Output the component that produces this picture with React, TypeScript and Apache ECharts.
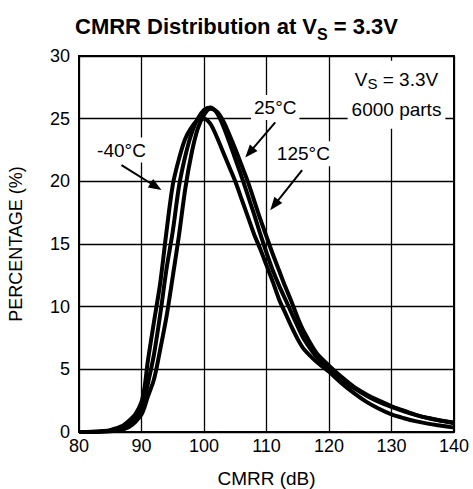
import React, { useEffect, useRef } from "react";
import * as echarts from "echarts";

const xs = [80, 82, 84, 85, 86, 87, 88, 89, 90, 90.5, 91, 92, 93, 94, 95, 96, 97, 98, 99, 100, 101, 102, 103, 104, 105, 106, 107, 108, 109, 110, 111, 112, 113, 114, 115, 116, 118, 120, 122, 124, 126, 128, 130, 132, 134, 136, 138, 140];

const tM40 = [0, 0.02, 0.08, 0.15, 0.3, 0.5, 0.9, 1.4, 2.4, 3.6, 5.6, 8.8, 11.9, 16.0, 19.7, 21.8, 23.4, 24.3, 24.9, 25.0, 24.6, 23.6, 22.4, 21.2, 20.0, 18.6, 17.2, 15.8, 14.6, 13.3, 12.0, 10.6, 9.5, 8.4, 7.4, 6.6, 5.6, 4.8, 3.9, 3.1, 2.4, 1.85, 1.4, 1.1, 0.85, 0.65, 0.5, 0.35];

const t25 = [0, 0.01, 0.05, 0.1, 0.2, 0.35, 0.6, 1.0, 1.8, 2.7, 3.8, 6.2, 9.4, 13.0, 16.0, 19.6, 22.0, 23.8, 25.0, 25.7, 25.9, 25.5, 24.5, 23.2, 21.8, 20.4, 18.9, 17.4, 15.8, 14.3, 12.9, 11.7, 10.6, 9.5, 8.4, 7.4, 6.0, 5.1, 4.2, 3.5, 2.9, 2.4, 2.0, 1.65, 1.35, 1.1, 0.9, 0.75];

const t125 = [0, 0, 0.03, 0.05, 0.1, 0.2, 0.4, 0.8, 1.4, 2.0, 2.8, 4.2, 6.6, 9.2, 12.4, 15.7, 19.4, 22.2, 24.2, 25.3, 25.8, 25.6, 24.9, 23.8, 22.6, 21.3, 20.0, 18.5, 17.0, 15.6, 14.2, 12.9, 11.6, 10.4, 9.1, 8.0, 6.3, 5.3, 4.4, 3.6, 3.0, 2.5, 2.05, 1.7, 1.35, 1.1, 0.9, 0.7];

const seriesNames = ["-40°C", "25°C", "125°C"];
const seriesValues = [tM40, t25, t125];

// annotation anchors in data coordinates
const curveLabels = [
  { text: "-40°C", at: [86.8, 22.5], from: [86.8, 21.3], to: [93.2, 19.3] },
  { text: "25°C", at: [111.4, 25.9], from: [111.4, 24.7], to: [106.6, 21.9] },
  { text: "125°C", at: [115.9, 22.2], from: [115.7, 20.9], to: [110.6, 17.7] },
];
const condLabelAt = [130.8, 26.9];
const condLines = ["V{s|S} = 3.3V", "6000 parts"];

const xTicks = { min: 80, max: 140, interval: 10 };
const yTicks = { min: 0, max: 30, interval: 5 };

const FONT = "'Liberation Sans', Arial, Helvetica, sans-serif";

export default function App() {
  const ref = useRef<HTMLDivElement>(null);
  useEffect(() => {
    document.body.style.margin = "0";
    const chart = echarts.init(ref.current!, null, { renderer: "svg" });
    const option: any = {
      animation: false,
      backgroundColor: "#fff",
      textStyle: { fontFamily: FONT, color: "#000" },
      title: {
        left: "center",
        top: 5,
        text: "{m|CMRR Distribution at V}{sub|S}{m| = 3.3V}",
        textStyle: {
          rich: {
            m: { fontFamily: FONT, fontSize: 22, fontWeight: "bold", color: "#000", lineHeight: 27, verticalAlign: "bottom" },
            sub: { fontFamily: FONT, fontSize: 16, fontWeight: "bold", color: "#000", lineHeight: 27, verticalAlign: "bottom", padding: [0, 0, -5, 0] },
          },
        },
      },
      grid: {
        left: 79,
        right: 19,
        top: 56,
        bottom: 57,
        containLabel: false,
        outerBoundsMode: "none",
        show: true,
        borderColor: "#000",
        borderWidth: 2,
      },
      xAxis: {
        type: "value",
        min: xTicks.min,
        max: xTicks.max,
        interval: xTicks.interval,
        name: "CMRR (dB)",
        nameLocation: "middle",
        nameGap: 37,
        nameTextStyle: { fontFamily: FONT, fontSize: 19, color: "#000" },
        axisLine: { show: true, lineStyle: { color: "#000", width: 2 } },
        axisTick: { show: false },
        axisLabel: { fontFamily: FONT, fontSize: 18, color: "#000", margin: 5 },
        splitLine: { show: true, lineStyle: { color: "#000", width: 1.3 } },
      },
      yAxis: {
        type: "value",
        min: yTicks.min,
        max: yTicks.max,
        interval: yTicks.interval,
        name: "PERCENTAGE (%)",
        nameLocation: "middle",
        nameGap: 54,
        nameRotate: 90,
        nameTextStyle: { fontFamily: FONT, fontSize: 18, color: "#000" },
        axisLine: { show: true, lineStyle: { color: "#000", width: 2 } },
        axisTick: { show: false },
        axisLabel: { fontFamily: FONT, fontSize: 18, color: "#000", margin: 9 },
        splitLine: { show: true, lineStyle: { color: "#000", width: 1.3 } },
      },
      series: seriesNames.map((name, k) => ({
        name,
        type: "line",
        smooth: 0.3,
        symbol: "none",
        data: xs.map((x, i) => [x, seriesValues[k][i]]),
        lineStyle: { color: "#000", width: 4 },
        z: 3,
      })),
    };
    chart.setOption(option);

    const px = (p: number[]) => chart.convertToPixel({ gridIndex: 0 }, p) as number[];
    const graphics: any[] = [];
    curveLabels.forEach((l) => {
      const c = px(l.at);
      graphics.push({
        type: "text",
        x: c[0],
        y: c[1],
        z: 100,
        style: {
          text: l.text,
          font: `19px ${FONT}`,
          fill: "#000",
          align: "center",
          verticalAlign: "middle",
          backgroundColor: "#fff",
          padding: [3, 3, 3, 3],
        },
      });
      const a = px(l.from);
      const b = px(l.to);
      const dx = b[0] - a[0];
      const dy = b[1] - a[1];
      const len = Math.hypot(dx, dy);
      const ux = dx / len;
      const uy = dy / len;
      const hl = 13;
      const hw = 5;
      const bx = b[0] - ux * hl;
      const by = b[1] - uy * hl;
      graphics.push({
        type: "line",
        z: 101,
        shape: { x1: a[0], y1: a[1], x2: bx + ux * 2, y2: by + uy * 2 },
        style: { stroke: "#000", lineWidth: 2 },
      });
      graphics.push({
        type: "polygon",
        z: 101,
        shape: {
          points: [
            [b[0], b[1]],
            [bx - uy * hw, by + ux * hw],
            [bx + uy * hw, by - ux * hw],
          ],
        },
        style: { fill: "#000" },
      });
    });
    const cc = px(condLabelAt);
    graphics.push({
      type: "text",
      x: cc[0],
      y: cc[1],
      z: 100,
      style: {
        text: condLines.join("\n"),
        font: `19px ${FONT}`,
        fill: "#000",
        align: "center",
        verticalAlign: "middle",
        backgroundColor: "#fff",
        padding: [4, 4, 4, 4],
        lineHeight: 30,
        rich: {
          s: { font: `15px ${FONT}`, fill: "#000", lineHeight: 30, padding: [8, 0, 0, 0] },
        },
      },
    });
    chart.setOption({ graphic: graphics });
    return () => chart.dispose();
  }, []);
  return <div ref={ref} style={{ width: 473, height: 489 }} />;
}
